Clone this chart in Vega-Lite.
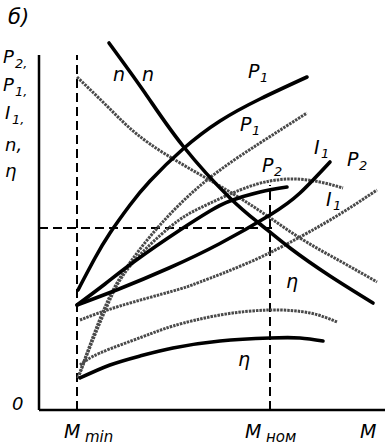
{
  "$schema": "https://vega.github.io/schema/vega-lite/v6.json",
  "width": 346,
  "height": 410,
  "padding": {"left": 39, "top": 0, "right": 0, "bottom": 36},
  "autosize": {"type": "none"},
  "background": "white",
  "config": {"view": {"stroke": null}},
  "datasets": {
    "black": [
      {"s": "n", "x": 70, "y": 367}, {"s": "n", "x": 106, "y": 317}, {"s": "n", "x": 144, "y": 264}, {"s": "n", "x": 191, "y": 212}, {"s": "n", "x": 221, "y": 186}, {"s": "n", "x": 251, "y": 162}, {"s": "n", "x": 291, "y": 134}, {"s": "n", "x": 334, "y": 107},
      {"s": "P1", "x": 39, "y": 120}, {"s": "P1", "x": 56, "y": 152}, {"s": "P1", "x": 71, "y": 177}, {"s": "P1", "x": 91, "y": 205}, {"s": "P1", "x": 111, "y": 229}, {"s": "P1", "x": 144, "y": 261}, {"s": "P1", "x": 181, "y": 289}, {"s": "P1", "x": 221, "y": 311}, {"s": "P1", "x": 268, "y": 333},
      {"s": "I1", "x": 38, "y": 105}, {"s": "I1", "x": 80, "y": 121}, {"s": "I1", "x": 130, "y": 142}, {"s": "I1", "x": 180, "y": 166}, {"s": "I1", "x": 231, "y": 195}, {"s": "I1", "x": 261, "y": 217}, {"s": "I1", "x": 291, "y": 248},
      {"s": "P2", "x": 38, "y": 105}, {"s": "P2", "x": 66, "y": 126}, {"s": "P2", "x": 96, "y": 149}, {"s": "P2", "x": 141, "y": 180}, {"s": "P2", "x": 171, "y": 199}, {"s": "P2", "x": 191, "y": 209}, {"s": "P2", "x": 221, "y": 218}, {"s": "P2", "x": 248, "y": 223},
      {"s": "eta", "x": 41, "y": 32}, {"s": "eta", "x": 71, "y": 45}, {"s": "eta", "x": 101, "y": 54}, {"s": "eta", "x": 134, "y": 62}, {"s": "eta", "x": 181, "y": 69}, {"s": "eta", "x": 231, "y": 72}, {"s": "eta", "x": 261, "y": 72}, {"s": "eta", "x": 284, "y": 69}
    ],
    "gray": [
      {"s": "n", "x": 38, "y": 333}, {"s": "n", "x": 71, "y": 301}, {"s": "n", "x": 111, "y": 266}, {"s": "n", "x": 174, "y": 228}, {"s": "n", "x": 221, "y": 199}, {"s": "n", "x": 261, "y": 172}, {"s": "n", "x": 301, "y": 149}, {"s": "n", "x": 338, "y": 128},
      {"s": "P1", "x": 39, "y": 32}, {"s": "P1", "x": 51, "y": 65}, {"s": "P1", "x": 66, "y": 103}, {"s": "P1", "x": 86, "y": 140}, {"s": "P1", "x": 121, "y": 185}, {"s": "P1", "x": 168, "y": 230}, {"s": "P1", "x": 221, "y": 267}, {"s": "P1", "x": 268, "y": 297},
      {"s": "P2", "x": 39, "y": 32}, {"s": "P2", "x": 53, "y": 68}, {"s": "P2", "x": 69, "y": 106}, {"s": "P2", "x": 91, "y": 144}, {"s": "P2", "x": 131, "y": 183}, {"s": "P2", "x": 161, "y": 202}, {"s": "P2", "x": 201, "y": 220}, {"s": "P2", "x": 231, "y": 229}, {"s": "P2", "x": 256, "y": 231}, {"s": "P2", "x": 281, "y": 228}, {"s": "P2", "x": 304, "y": 222},
      {"s": "I1", "x": 41, "y": 90}, {"s": "I1", "x": 81, "y": 104}, {"s": "I1", "x": 134, "y": 119}, {"s": "I1", "x": 161, "y": 128}, {"s": "I1", "x": 211, "y": 148}, {"s": "I1", "x": 261, "y": 173}, {"s": "I1", "x": 301, "y": 196}, {"s": "I1", "x": 338, "y": 220},
      {"s": "eta", "x": 41, "y": 45}, {"s": "eta", "x": 61, "y": 57}, {"s": "eta", "x": 103, "y": 73}, {"s": "eta", "x": 134, "y": 84}, {"s": "eta", "x": 181, "y": 95}, {"s": "eta", "x": 231, "y": 100}, {"s": "eta", "x": 271, "y": 97}, {"s": "eta", "x": 298, "y": 88}
    ],
    "dashes": [
      {"x": 38, "y": 0, "x2": 38, "y2": 355},
      {"x": 231, "y": 0, "x2": 231, "y2": 225},
      {"x": 0, "y": 182, "x2": 234, "y2": 182}
    ],
    "axes": [
      {"x": 0, "y": 0, "x2": 0, "y2": 355},
      {"x": 0, "y": 0, "x2": 346, "y2": 0}
    ],
    "texts": [
      {"t": "б)", "x": -31, "y": 392, "sz": 21},
      {"t": "P", "x": -36, "y": 352, "sz": 18}, {"t": "2,", "x": -24, "y": 346, "sz": 13},
      {"t": "P", "x": -36, "y": 324, "sz": 18}, {"t": "1,", "x": -24, "y": 318, "sz": 13},
      {"t": "I", "x": -34, "y": 296, "sz": 18}, {"t": "1,", "x": -27, "y": 290, "sz": 13},
      {"t": "n,", "x": -34, "y": 264, "sz": 18},
      {"t": "η", "x": -34, "y": 238, "sz": 18},
      {"t": "0", "x": -27, "y": 5, "sz": 18},
      {"t": "M", "x": 25, "y": -22, "sz": 19}, {"t": "min", "x": 46, "y": -27, "sz": 15},
      {"t": "M", "x": 206, "y": -22, "sz": 19}, {"t": "ном", "x": 227, "y": -27, "sz": 15},
      {"t": "M", "x": 321, "y": -22, "sz": 19},
      {"t": "n", "x": 74, "y": 335, "sz": 19},
      {"t": "n", "x": 103, "y": 335, "sz": 19},
      {"t": "P", "x": 209, "y": 338, "sz": 19}, {"t": "1", "x": 221, "y": 332, "sz": 13},
      {"t": "P", "x": 201, "y": 285, "sz": 19}, {"t": "1", "x": 213, "y": 279, "sz": 13},
      {"t": "P", "x": 223, "y": 244, "sz": 19}, {"t": "2", "x": 235, "y": 238, "sz": 13},
      {"t": "I", "x": 275, "y": 262, "sz": 19}, {"t": "1", "x": 282, "y": 256, "sz": 13},
      {"t": "P", "x": 308, "y": 250, "sz": 19}, {"t": "2", "x": 320, "y": 244, "sz": 13},
      {"t": "I", "x": 287, "y": 210, "sz": 19}, {"t": "1", "x": 294, "y": 204, "sz": 13},
      {"t": "η", "x": 247, "y": 128, "sz": 19},
      {"t": "η", "x": 199, "y": 50, "sz": 19}
    ]
  },
  "layer": [
    {
      "data": {"name": "axes"},
      "mark": {"type": "rule", "strokeWidth": 2.5, "color": "#000"},
      "encoding": {
        "x": {"field": "x", "type": "quantitative", "scale": {"domain": [0, 346], "nice": false, "zero": false}, "axis": null},
        "y": {"field": "y", "type": "quantitative", "scale": {"domain": [0, 410], "nice": false, "zero": false}, "axis": null},
        "x2": {"field": "x2"},
        "y2": {"field": "y2"}
      }
    },
    {
      "data": {"name": "dashes"},
      "mark": {"type": "rule", "strokeWidth": 2, "color": "#000", "strokeDash": [9, 5]},
      "encoding": {
        "x": {"field": "x", "type": "quantitative"},
        "y": {"field": "y", "type": "quantitative"},
        "x2": {"field": "x2"},
        "y2": {"field": "y2"}
      }
    },
    {
      "data": {"name": "gray"},
      "mark": {"type": "line", "interpolate": "natural", "color": "#4a4a4a", "strokeWidth": 3, "strokeDash": [2.5, 1]},
      "encoding": {
        "x": {"field": "x", "type": "quantitative"},
        "y": {"field": "y", "type": "quantitative"},
        "detail": {"field": "s"}
      }
    },
    {
      "data": {"name": "black"},
      "mark": {"type": "line", "interpolate": "natural", "color": "#000", "strokeWidth": 3.6, "strokeCap": "round"},
      "encoding": {
        "x": {"field": "x", "type": "quantitative"},
        "y": {"field": "y", "type": "quantitative"},
        "detail": {"field": "s"}
      }
    },
    {
      "data": {"name": "texts"},
      "mark": {"type": "text", "font": "DejaVu Sans", "fontStyle": "italic", "align": "left", "baseline": "middle", "color": "#000"},
      "encoding": {
        "x": {"field": "x", "type": "quantitative"},
        "y": {"field": "y", "type": "quantitative"},
        "text": {"field": "t"},
        "size": {"field": "sz", "type": "quantitative", "scale": null}
      }
    }
  ]
}
